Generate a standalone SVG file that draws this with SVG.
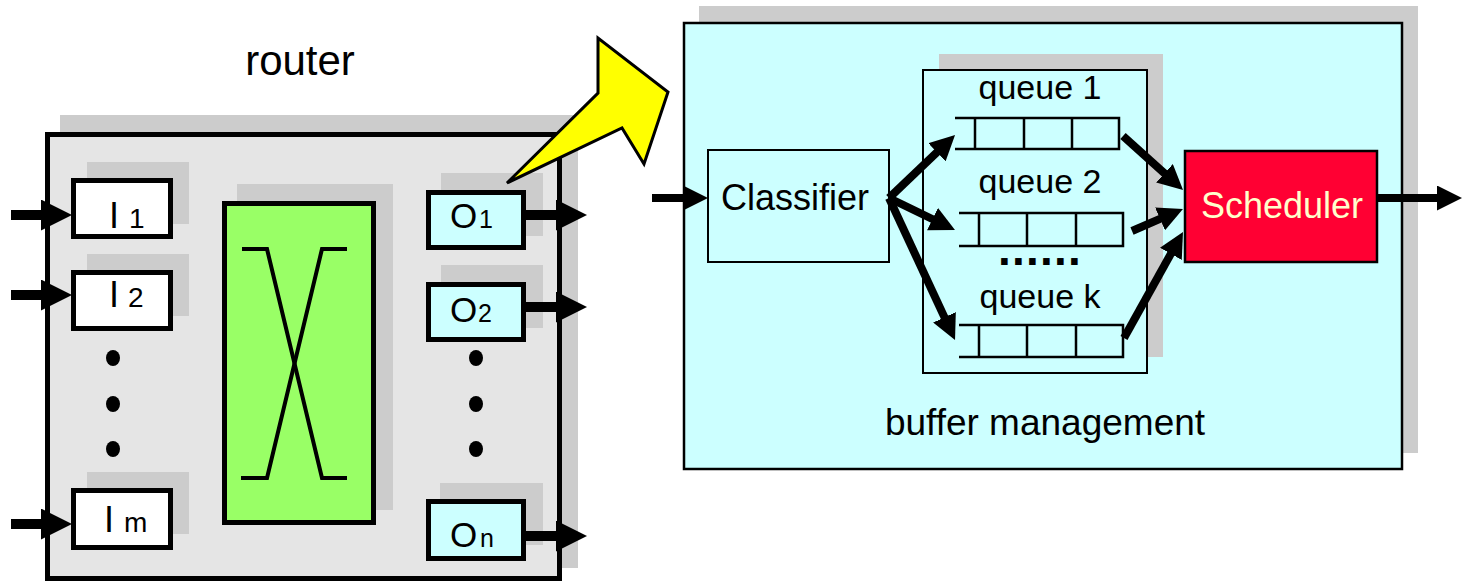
<svg xmlns="http://www.w3.org/2000/svg" width="1462" height="581" viewBox="0 0 1462 581">
<style>
  .shadow { fill: #cccccc; stroke: none; }
  .thick { stroke: #000; stroke-width: 5; }
  .thin { stroke: #000; stroke-width: 2.5; }
  .gray { fill: #e5e5e5; }
  .white { fill: #ffffff; }
  .cyan { fill: #ccffff; }
  .green { fill: #99ff66; }
  .red { fill: #ff0033; }
  text { font-family: "Liberation Sans", Arial, sans-serif; fill: #000; }
  .buf { fill: none; stroke: #000; stroke-width: 2.5; }
  .arrowB { stroke: #000; stroke-width: 10; fill: none; marker-end: url(#headB); }
  .arrowS { stroke: #000; stroke-width: 8; fill: none; marker-end: url(#headS); }
  .dot { fill: #000; }
</style>
<defs>
  <marker id="headB" viewBox="0 0 10 10" refX="4" refY="5" markerWidth="31" markerHeight="31" markerUnits="userSpaceOnUse" orient="auto">
    <path d="M0,0 L10,5 L0,10 Z" fill="#000"/>
  </marker>
  <marker id="headS" viewBox="0 0 10 10" refX="4" refY="5" markerWidth="25" markerHeight="25" markerUnits="userSpaceOnUse" orient="auto">
    <path d="M0,0 L10,5 L0,10 Z" fill="#000"/>
  </marker>
</defs>

<rect width="1462" height="581" fill="#ffffff"/>

<!-- Router -->
<g id="router">
  <text x="300" y="75" font-size="42" text-anchor="middle">router</text>
  <rect class="shadow" x="60" y="115" width="518" height="453"/>
  <rect class="gray thick" x="47.5" y="134.5" width="512" height="444"/>
</g>

<g id="input-1">
  <rect class="shadow" x="87" y="162" width="102" height="62"/>
  <rect class="white thick" x="73.5" y="180.5" width="97" height="56"/>
  <text y="228"><tspan x="109" font-size="36">I</tspan><tspan x="129" font-size="28">1</tspan></text>
</g>
<g id="input-2">
  <rect class="shadow" x="87" y="254" width="102" height="62"/>
  <rect class="white thick" x="73.5" y="272.5" width="97" height="56"/>
  <text y="307"><tspan x="109" font-size="36">I</tspan><tspan x="128" font-size="28">2</tspan></text>
</g>
<g id="input-dots">
  <ellipse class="dot" cx="113" cy="358" rx="7" ry="8"/>
  <ellipse class="dot" cx="113" cy="404" rx="7" ry="8"/>
  <ellipse class="dot" cx="113" cy="449" rx="7" ry="8"/>
</g>
<g id="input-m">
  <rect class="shadow" x="87" y="472" width="102" height="62"/>
  <rect class="white thick" x="73.5" y="490.5" width="97" height="57"/>
  <text y="532"><tspan x="104" font-size="36">I</tspan><tspan x="124" font-size="28">m</tspan></text>
</g>

<g id="switch-fabric">
  <rect class="shadow" x="237" y="184" width="156" height="326"/>
  <rect class="green thick" x="224.5" y="203.5" width="149" height="319"/>
  <path d="M242,249 H267 L322,478 H347" fill="none" stroke="#000" stroke-width="4"/>
  <path d="M347,249 H322 L267,478 H241" fill="none" stroke="#000" stroke-width="4"/>
</g>

<g id="output-1">
  <rect class="shadow" x="441" y="173" width="102" height="63"/>
  <rect class="cyan thick" x="428.5" y="192.5" width="95" height="55"/>
  <text y="228"><tspan x="450" font-size="35">O</tspan><tspan x="479" font-size="25">1</tspan></text>
</g>
<g id="output-2">
  <rect class="shadow" x="441" y="265" width="102" height="63"/>
  <rect class="cyan thick" x="428.5" y="284.5" width="95" height="55"/>
  <text y="322"><tspan x="450" font-size="35">O</tspan><tspan x="478" font-size="25">2</tspan></text>
</g>
<g id="output-dots">
  <ellipse class="dot" cx="476" cy="358" rx="7" ry="8"/>
  <ellipse class="dot" cx="476" cy="404" rx="7" ry="8"/>
  <ellipse class="dot" cx="476" cy="449" rx="7" ry="8"/>
</g>
<g id="output-n">
  <rect class="shadow" x="440" y="483" width="103" height="62"/>
  <rect class="cyan thick" x="428.5" y="501.5" width="95" height="57"/>
  <text y="547"><tspan x="450" font-size="35">O</tspan><tspan x="480" font-size="25">n</tspan></text>
</g>

<!-- Buffer management -->
<g id="buffer-management">
  <rect class="shadow" x="699" y="6" width="719" height="447"/>
  <rect class="cyan thin" x="684" y="23" width="718" height="446"/>
  <text x="1045" y="435" font-size="37" text-anchor="middle">buffer management</text>
</g>

<g id="classifier">
  <rect class="cyan" stroke="#000" stroke-width="2" x="708" y="150" width="181" height="112"/>
  <text x="795" y="210" font-size="36" text-anchor="middle">Classifier</text>
</g>

<g id="queues">
  <rect class="shadow" x="939" y="54" width="224" height="303"/>
  <rect class="cyan" stroke="#000" stroke-width="2" x="923" y="70" width="224" height="303"/>
  <text x="1040" y="99" font-size="34" text-anchor="middle">queue 1</text>
  <text x="1040" y="193" font-size="34" text-anchor="middle">queue 2</text>
  <text x="1040" y="265" font-size="46" font-weight="bold" text-anchor="middle" letter-spacing="1.2">......</text>
  <text x="1040" y="308" font-size="34" text-anchor="middle">queue k</text>
</g>
<g id="queue-1-buffer">
  <path class="buf" d="M955,118 H1119 V149 H955 M975,118 V149 M1024,118 V149 M1072,118 V149"/>
</g>
<g id="queue-2-buffer">
  <path class="buf" d="M959,213 H1123 V246 H959 M979,213 V246 M1027,213 V246 M1076,213 V246"/>
</g>
<g id="queue-k-buffer">
  <path class="buf" d="M959,325 H1123 V357 H959 M979,325 V357 M1027,325 V357 M1076,325 V357"/>
</g>

<g id="scheduler">
  <rect class="red" stroke="#000" stroke-width="2.5" x="1185" y="151" width="192" height="111"/>
  <text x="1282" y="218" font-size="36" text-anchor="middle" style="fill:#ffffcc">Scheduler</text>
</g>

<!-- Connectors -->
<g id="connectors">
  <line class="arrowB" x1="11" y1="215" x2="53.4" y2="215"/>
  <line class="arrowB" x1="11" y1="295" x2="53.4" y2="295"/>
  <line class="arrowB" x1="11" y1="524" x2="53.4" y2="524"/>
  <line class="arrowB" x1="526" y1="215" x2="568.4" y2="215"/>
  <line class="arrowB" x1="526" y1="307" x2="568.4" y2="307"/>
  <line class="arrowB" x1="526" y1="536" x2="568.4" y2="536"/>

  <line class="arrowS" x1="652" y1="198" x2="693" y2="198"/>
  <line class="arrowS" x1="889" y1="198" x2="944.2" y2="145.4"/>
  <line class="arrowS" x1="889" y1="198" x2="941.5" y2="223.5"/>
  <line class="arrowS" x1="889" y1="198" x2="948.7" y2="326.4"/>
  <line class="arrowS" x1="1123" y1="136" x2="1171.9" y2="180"/>
  <line class="arrowS" x1="1132" y1="231" x2="1169.2" y2="214.9"/>
  <line class="arrowS" x1="1124" y1="338" x2="1175.7" y2="245.1"/>
  <line class="arrowS" x1="1377" y1="198" x2="1447" y2="198"/>

  <polygon id="zoom-callout" points="507,183 598,93 598,38 668,92 644,164 622,128" fill="#ffff00" stroke="#000" stroke-width="3" stroke-linejoin="miter"/>
</g>
</svg>
